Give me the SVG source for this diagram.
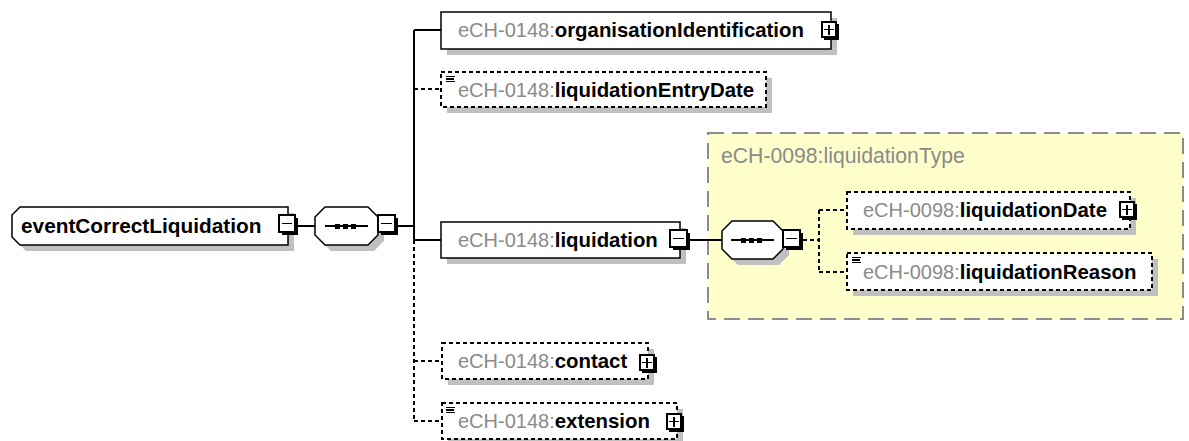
<svg xmlns="http://www.w3.org/2000/svg" width="1189" height="441" viewBox="0 0 1189 441">
<defs>
<style>
.bg{fill:#ffffff}
.shadow{fill:#c0c0c0;stroke:none}
.box{fill:#ffffff;stroke:#000;stroke-width:1.5}
.dbox{fill:#ffffff;stroke:#000;stroke-width:1.5;stroke-dasharray:4 3;shape-rendering:crispEdges}
.ln{fill:none;stroke:#000;stroke-width:1.5;shape-rendering:crispEdges}
.dln{fill:none;stroke:#000;stroke-width:1.5;stroke-dasharray:4 3;shape-rendering:crispEdges}
.t{font-family:"Liberation Sans",Arial,sans-serif;font-size:20.4px;font-weight:bold;fill:#000}
.pre{fill:#8a8a8a;font-weight:normal;font-size:20px}
.lbl{font-family:"Liberation Sans",Arial,sans-serif;font-size:21.2px;font-weight:normal;fill:#8a8a8a}
.type{fill:#ffffcc;stroke:#8c8c8c;stroke-width:1.5;stroke-dasharray:16 8;shape-rendering:crispEdges}
.pm{fill:#ffffff;stroke:#000;stroke-width:1.3;shape-rendering:crispEdges}
.pmsh{fill:#000;shape-rendering:crispEdges}
.ic{stroke:#000;stroke-width:1.2;shape-rendering:crispEdges}
</style>
</defs>
<rect class="bg" x="0" y="0" width="1189" height="441"/>

<g id="type-liquidationType">
<rect class="type" x="708" y="133" width="475" height="186"/>
<text class="lbl" x="721" y="163">eCH-0098:liquidationType</text>
</g>

<g id="connectors">
<line class="ln" x1="298" y1="226" x2="315" y2="226"/>
<line class="ln" x1="398" y1="226" x2="414" y2="226"/>
<line class="ln" x1="414" y1="30" x2="414" y2="240"/>
<line class="dln" x1="414" y1="240" x2="414" y2="421"/>
<line class="ln" x1="414" y1="30" x2="441" y2="30"/>
<line class="dln" x1="414" y1="89" x2="441" y2="89"/>
<line class="ln" x1="414" y1="240" x2="441" y2="240"/>
<line class="dln" x1="414" y1="361" x2="442" y2="361"/>
<line class="dln" x1="414" y1="421" x2="442" y2="421"/>
<line class="ln" x1="690" y1="240" x2="722" y2="240"/>
<line class="dln" x1="803" y1="240" x2="819" y2="240"/>
<line class="dln" x1="819" y1="210" x2="819" y2="272"/>
<line class="dln" x1="819" y1="210" x2="847" y2="210"/>
<line class="dln" x1="819" y1="272" x2="847" y2="272"/>
</g>

<g id="node-eventCorrectLiquidation">
<path class="shadow" d="M26,213 L294,213 L294,251 L26,251 L18,243 L18,221 Z"/>
<path class="box" d="M20,207 L288,207 L288,245 L20,245 L12,237 L12,215 Z"/>
<text class="t" x="21" y="233" style="font-size:20.8px">eventCorrectLiquidation</text>
<rect class="pmsh" x="282" y="218" width="16" height="17"/>
<rect class="pm" x="279" y="215" width="16" height="17"/>
<line class="ln" x1="282" y1="223.5" x2="292" y2="223.5"/>
</g>

<g id="seq-1">
<path class="shadow" d="M331,213 L374,213 L384,223 L384,241 L374,251 L331,251 L321,241 L321,223 Z"/>
<path class="box" d="M325,207 L368,207 L378,217 L378,235 L368,245 L325,245 L315,235 L315,217 Z"/>
<line class="ln" x1="325" y1="226" x2="368" y2="226"/>
<rect class="pmsh" x="335" y="223.5" width="5" height="5"/>
<rect class="pmsh" x="343" y="223.5" width="5" height="5"/>
<rect class="pmsh" x="351" y="223.5" width="5" height="5"/>
<rect class="pmsh" x="381" y="218" width="17" height="17"/>
<rect class="pm" x="378" y="215" width="17" height="17"/>
<line class="ln" x1="381" y1="223.5" x2="392" y2="223.5"/>
</g>

<g id="node-organisationIdentification">
<rect class="shadow" x="447" y="18" width="390" height="37"/>
<rect class="box" x="441" y="12" width="390" height="37"/>
<text class="t" x="458" y="37"><tspan class="pre">eCH-0148:</tspan>organisationIdentification</text>
<rect class="pmsh" x="824" y="24" width="15" height="16"/>
<rect class="pm" x="822" y="22" width="14" height="15"/>
<line class="ln" x1="824" y1="29.5" x2="834" y2="29.5"/>
<line class="ln" x1="829" y1="24.5" x2="829" y2="34.5"/>
</g>

<g id="node-liquidationEntryDate">
<rect class="shadow" x="447" y="78" width="325" height="35"/>
<rect class="dbox" x="441" y="72" width="325" height="35"/>
<line class="ic" x1="446" y1="76.5" x2="455" y2="76.5"/>
<line class="ic" x1="446" y1="79" x2="454" y2="79"/>
<line class="ic" x1="446" y1="81.5" x2="455" y2="81.5"/>
<text class="t" x="458" y="97"><tspan class="pre">eCH-0148:</tspan>liquidationEntryDate</text>
</g>

<g id="node-liquidation">
<rect class="shadow" x="447" y="228" width="239" height="36"/>
<rect class="box" x="441" y="222" width="239" height="36"/>
<text class="t" x="458" y="247"><tspan class="pre">eCH-0148:</tspan>liquidation</text>
<rect class="pmsh" x="673" y="233" width="17" height="17"/>
<rect class="pm" x="670" y="230" width="17" height="17"/>
<line class="ln" x1="673" y1="238.5" x2="684" y2="238.5"/>
</g>

<g id="seq-2">
<path class="shadow" d="M738,227 L779,227 L789,237 L789,255 L779,265 L738,265 L728,255 L728,237 Z"/>
<path class="box" d="M732,221 L773,221 L783,231 L783,249 L773,259 L732,259 L722,249 L722,231 Z"/>
<line class="ln" x1="731" y1="240" x2="774" y2="240"/>
<rect class="pmsh" x="741" y="237.5" width="5" height="5"/>
<rect class="pmsh" x="749" y="237.5" width="5" height="5"/>
<rect class="pmsh" x="757" y="237.5" width="5" height="5"/>
<rect class="pmsh" x="786" y="233" width="17" height="17"/>
<rect class="pm" x="783" y="230" width="17" height="17"/>
<line class="ln" x1="786" y1="238.5" x2="797" y2="238.5"/>
</g>

<g id="node-liquidationDate">
<rect class="shadow" x="853" y="198" width="283" height="37"/>
<rect class="dbox" x="847" y="192" width="283" height="37"/>
<text class="t" x="863" y="217"><tspan class="pre">eCH-0098:</tspan>liquidationDate</text>
<rect class="pmsh" x="1122" y="204" width="15" height="16"/>
<rect class="pm" x="1120" y="202" width="14" height="15"/>
<line class="ln" x1="1122" y1="209.5" x2="1132" y2="209.5"/>
<line class="ln" x1="1127" y1="204.5" x2="1127" y2="214.5"/>
</g>

<g id="node-liquidationReason">
<rect class="shadow" x="853" y="259" width="305" height="37"/>
<rect class="dbox" x="847" y="253" width="305" height="37"/>
<line class="ic" x1="852" y1="257.5" x2="861" y2="257.5"/>
<line class="ic" x1="852" y1="260" x2="860" y2="260"/>
<line class="ic" x1="852" y1="262.5" x2="861" y2="262.5"/>
<text class="t" x="863" y="279"><tspan class="pre">eCH-0098:</tspan>liquidationReason</text>
</g>

<g id="node-contact">
<rect class="shadow" x="448" y="349" width="206" height="36"/>
<rect class="dbox" x="442" y="343" width="206" height="36"/>
<text class="t" x="458" y="368"><tspan class="pre">eCH-0148:</tspan>contact</text>
<rect class="pmsh" x="642" y="357" width="15" height="16"/>
<rect class="pm" x="640" y="355" width="14" height="15"/>
<line class="ln" x1="642" y1="362.5" x2="652" y2="362.5"/>
<line class="ln" x1="647" y1="357.5" x2="647" y2="367.5"/>
</g>

<g id="node-extension">
<rect class="shadow" x="448" y="409" width="235" height="36"/>
<rect class="dbox" x="442" y="403" width="235" height="36"/>
<line class="ic" x1="446" y1="407.5" x2="455" y2="407.5"/>
<line class="ic" x1="446" y1="410" x2="454" y2="410"/>
<line class="ic" x1="446" y1="412.5" x2="455" y2="412.5"/>
<text class="t" x="458" y="428"><tspan class="pre">eCH-0148:</tspan>extension</text>
<rect class="pmsh" x="669" y="416" width="15" height="16"/>
<rect class="pm" x="667" y="414" width="14" height="15"/>
<line class="ln" x1="669" y1="421.5" x2="679" y2="421.5"/>
<line class="ln" x1="674" y1="416.5" x2="674" y2="426.5"/>
</g>
</svg>
